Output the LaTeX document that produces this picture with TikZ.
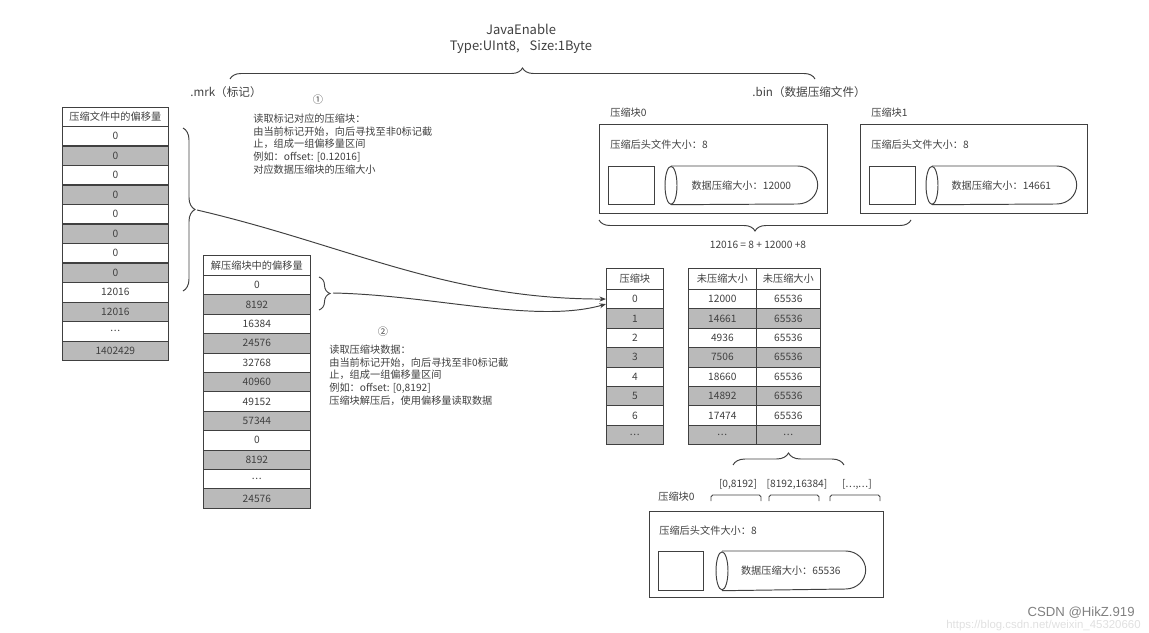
\documentclass[tikz,border=0pt]{standalone}
\usepackage{fontspec}
\setmainfont{Noto Sans CJK SC}
\newfontfamily\wmfont{Liberation Sans}
\usepackage{xcolor}
\usepackage{tikz}
\usetikzlibrary{positioning}
\usetikzlibrary{arrows.meta}
\usetikzlibrary{decorations.pathreplacing}
\usetikzlibrary{calc}

\newcommand{\tdots}{.\kern0.4pt.\kern0.4pt.}

\tikzset{
  cell/.style={draw=black!75, inner sep=0pt, text=black!75, font=\fontsize{5.8}{7}\selectfont},
  lbl/.style={inner sep=0pt, text=black!75, font=\fontsize{5.8}{7.2}\selectfont},
  line/.style={draw=black!75, line width=0.55pt},
  brc/.style={draw=black!75, line width=0.55pt, decorate, decoration={brace, amplitude=#1}},
  conn/.style={draw=black!75, line width=0.55pt, -{Stealth[length=0.13cm, width=0.1cm]}},
}

\begin{document}
\begin{tikzpicture}[x=0.02cm, y=-0.02cm]

\useasboundingbox (0,0) rectangle (1149,632);

% title and top brace
\node[lbl, font=\fontsize{7.4}{9}\selectfont, align=center] (title) at (521,39) {JavaEnable\\Type:UInt8,\hspace{0.2cm}Size:1Byte};
\coordinate (topl) at (230,79);
\coordinate (topr) at (815,79);
\draw[brc=0.22cm] (topl) -- (topr);

\node[lbl, font=\fontsize{6.6}{8}\selectfont, anchor=west] (mrk) at (190,92) {.mrk（标记）};
\node[lbl, font=\fontsize{6.6}{8}\selectfont, anchor=west] (bin) at (752,92) {.bin（数据压缩文件）};

% table: marks
\node[cell, minimum width=2.12cm, minimum height=0.38cm, anchor=north west] (mh) at (62,107) {压缩文件中的偏移量};
\foreach \val [count=\i] in {0,0,0,0,0,0,0,0,12016,12016,\tdots,1402429} {
  \ifodd\i \def\f{white}\else \def\f{black!27}\fi
  \node[cell, fill=\f, minimum width=2.12cm, minimum height=0.39cm, anchor=north west] (m\i) at (62,{126+19.5*(\i-1)}) {\val};
}

% table: offsets in block
\node[cell, minimum width=2.14cm, minimum height=0.4cm, anchor=north west] (dh) at (203,255) {解压缩块中的偏移量};
\foreach \val [count=\i] in {0,8192,16384,24576,32768,40960,49152,57344,0,8192,\tdots,24576} {
  \ifodd\i \def\f{white}\else \def\f{black!27}\fi
  \node[cell, fill=\f, minimum width=2.14cm, minimum height=0.388cm, anchor=north west] (d\i) at (203,{275+19.4*(\i-1)}) {\val};
}

% table: blocks
\node[cell, minimum width=1.14cm, minimum height=0.42cm, anchor=north west] (kh) at (606,268) {压缩块};
\foreach \val [count=\i from 0] in {0,1,2,3,4,5,6,\tdots} {
  \ifodd\i \def\f{black!27}\else \def\f{white}\fi
  \node[cell, fill=\f, minimum width=1.14cm, minimum height=0.388cm, anchor=north west] (k\i) at (606,{289+19.4*\i}) {\val};
}

% table: sizes
\node[cell, minimum width=1.36cm, minimum height=0.42cm, anchor=north west] (uh) at (688,268) {未压缩大小};
\node[cell, minimum width=1.28cm, minimum height=0.42cm, anchor=north west] (vh) at (756,268) {未压缩大小};
\foreach \val/\raw [count=\i] in {12000/65536,14661/65536,4936/65536,7506/65536,18660/65536,14892/65536,17474/65536,\tdots/\tdots} {
  \ifodd\i \def\f{white}\else \def\f{black!27}\fi
  \node[cell, fill=\f, minimum width=1.36cm, minimum height=0.388cm, anchor=north west] (u\i) at (688,{289+19.4*(\i-1)}) {\val};
  \node[cell, fill=\f, minimum width=1.28cm, minimum height=0.388cm, anchor=north west] (v\i) at (756,{289+19.4*(\i-1)}) {\raw};
}

% notes
\node[lbl] (n1) at (318,100) {①};
\node[lbl, align=left, anchor=north west] (t1) at (253,113.5) {读取标记对应的压缩块：\\由当前标记开始，向后寻找至非0标记截\\止，组成一组偏移量区间\\例如：offset: [0.12016]\\对应数据压缩块的压缩大小};
\node[lbl] (n2) at (383,332) {②};
\node[lbl, align=left, anchor=north west] (t2) at (329,344.5) {读取压缩块数据：\\由当前标记开始，向后寻找至非0标记截\\止，组成一组偏移量区间\\例如：offset: [0,8192]\\压缩块解压后，使用偏移量读取数据};

% braces and connectors
\coordinate (lbt) at (183,128);
\coordinate (lbb) at (183,291);
\draw[brc=0.24cm] (lbt) -- (lbb);
\coordinate (lbtip) at (197,210);
\coordinate (mbt) at (319,277);
\coordinate (mbb) at (319,310);
\draw[brc=0.22cm] (mbt) -- (mbb);
\coordinate (mbtip) at (333,293);

\draw[conn] (lbtip) .. controls +(150,35) and +(-160,0) .. (k0.west);
\draw[conn] (mbtip) .. controls +(100,2) and +(-70,20) .. ([yshift=-0.1cm]k0.west);

% compressed blocks
\node[lbl, anchor=west] (b0l) at (610,113) {压缩块0};
\node[draw=black!75, line width=0.55pt, minimum width=4.56cm, minimum height=1.78cm, anchor=north west] (box0) at (599,124) {};
\node[lbl, anchor=west] (h0) at (610,145) {压缩后头文件大小：8};
\node[draw=black!75, line width=0.55pt, minimum width=0.92cm, minimum height=0.76cm, anchor=north west] (sq0) at (608,166) {};
\node[lbl, minimum width=3.04cm, minimum height=0.76cm, anchor=north west] (cyl0) at (665,166) {数据压缩大小：12000};

\node[lbl, anchor=west] (b1l) at (871,113) {压缩块1};
\node[draw=black!75, line width=0.55pt, minimum width=4.54cm, minimum height=1.78cm, anchor=north west] (box1) at (860,124) {};
\node[lbl, anchor=west] (h1) at (871,145) {压缩后头文件大小：8};
\node[draw=black!75, line width=0.55pt, minimum width=0.92cm, minimum height=0.76cm, anchor=north west] (sq1) at (869,166) {};
\node[lbl, minimum width=3.0cm, minimum height=0.76cm, anchor=north west] (cyl1) at (926,166) {数据压缩大小：14661};

\coordinate (ubr) at (911,220);
\coordinate (ubl) at (599,220);
\draw[brc=0.22cm] (ubr) -- (ubl);
\node[lbl] (sum) at (758,245) {12016 = 8 + 12000 +8};

% uncompressed block
\coordinate (bbl) at (733,465);
\coordinate (bbr) at (844,465);
\draw[brc=0.24cm] (bbl) -- (bbr);
\node[lbl] (r1) at (738,484) {[0,8192]};
\node[lbl] (r2) at (797,484) {[8192,16384]};
\node[lbl] (r3) at (857,484) {[\tdots,\tdots]};
\foreach \a/\b in {711/761, 769/819, 830/880}
  \draw[line, rounded corners=1pt] (\a,501) -- (\a,495) -- (\b,495) -- (\b,501);

\node[lbl, anchor=west] (b2l) at (658,497) {压缩块0};
\node[draw=black!75, line width=0.55pt, minimum width=4.68cm, minimum height=1.72cm, anchor=north west] (box2) at (649,511) {};
\node[lbl, anchor=west] (h2) at (659,531) {压缩后头文件大小：8};
\node[draw=black!75, line width=0.55pt, minimum width=0.9cm, minimum height=0.78cm, anchor=north west] (sq2) at (658,551) {};
\node[lbl, minimum width=2.98cm, minimum height=0.78cm, anchor=north west] (cyl2) at (716,551) {数据压缩大小：65536};

\foreach \c in {cyl0,cyl1,cyl2} {
  \draw[line] ([xshift=0.12cm]\c.west) ellipse [x radius=0.12cm, y radius=0.38cm];
  \draw[line] ([xshift=0.12cm]\c.north west) -- ([xshift=-0.4cm]\c.north east) arc[start angle=90, end angle=-90, x radius=0.4cm, y radius=0.38cm] -- ([xshift=0.12cm]\c.south west);
}

% watermark
\node[inner sep=0pt, anchor=east, text=black!50, font=\wmfont\fontsize{7.5}{9}\selectfont] (wm) at (1135,613) {CSDN @HikZ.919};
\node[inner sep=0pt, anchor=east, text=black!12, font=\wmfont\fontsize{6.5}{8}\selectfont] (url) at (1141,626) {https://blog.csdn.net/weixin\_45320660};

\end{tikzpicture}
\end{document}
